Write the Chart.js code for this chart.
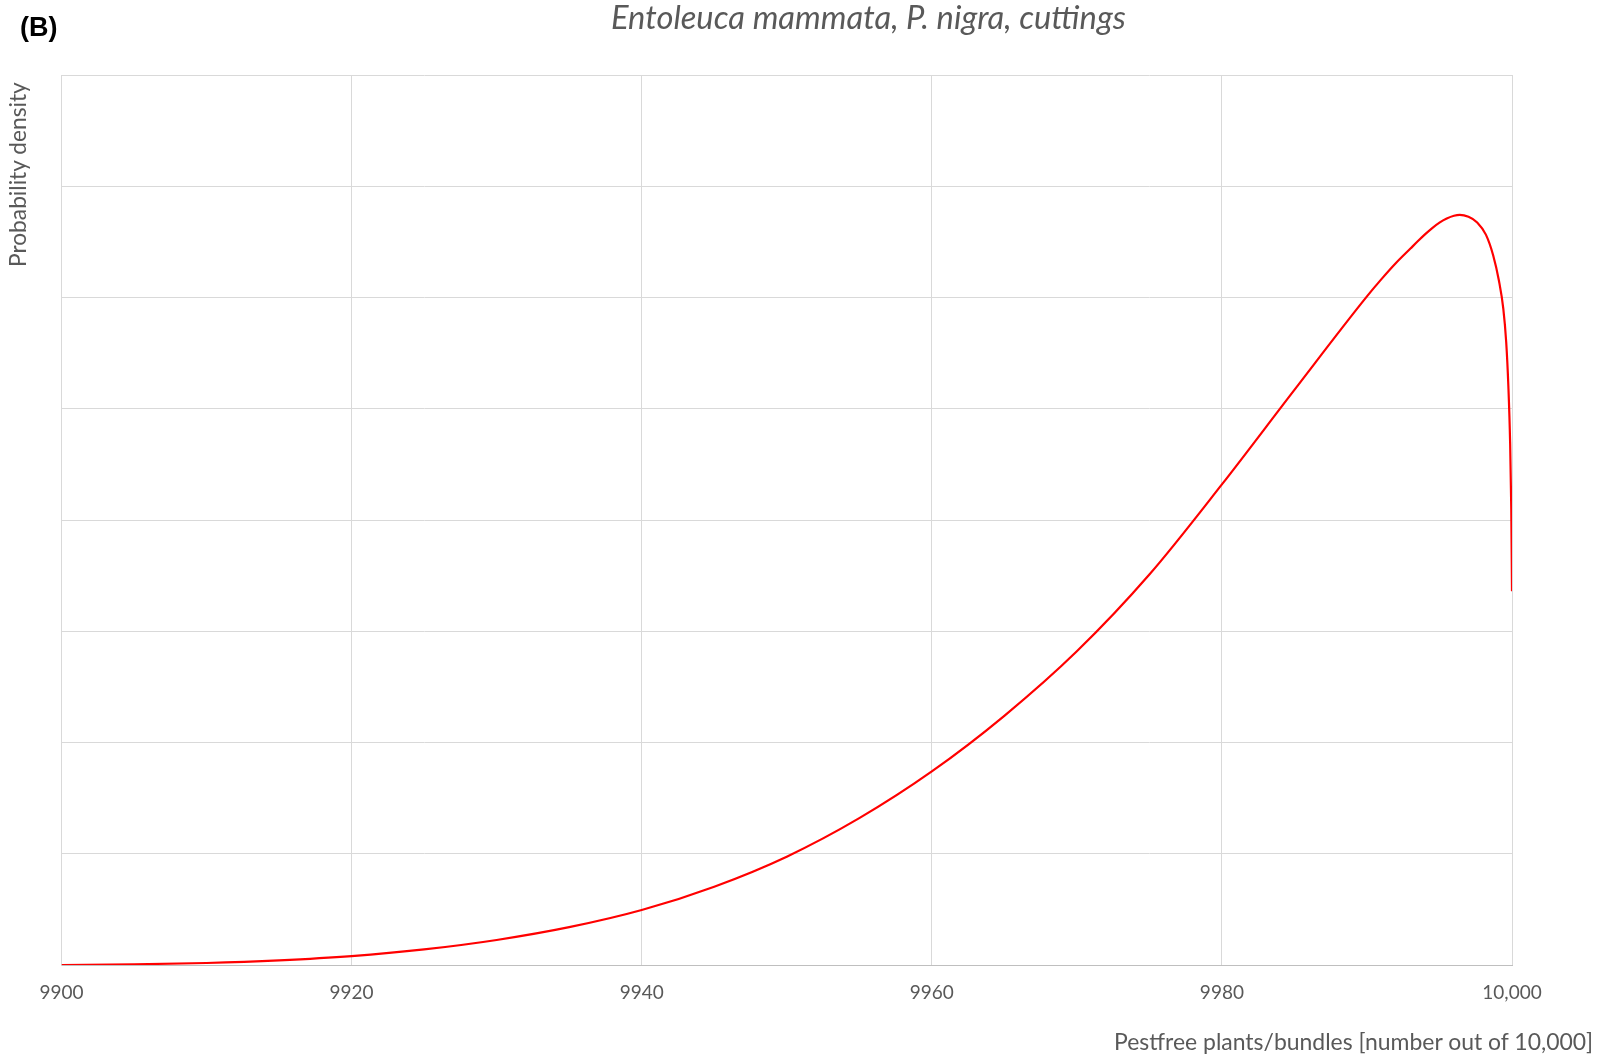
<!DOCTYPE html>
<html>
<head>
<meta charset="utf-8">
<title>Entoleuca mammata, P. nigra, cuttings</title>
<script src="https://cdn.jsdelivr.net/npm/chart.js@4.4.1/dist/chart.umd.min.js"></script>
<style>
  html, body { margin: 0; padding: 0; background: #fff; }
  #wrap { position: relative; width: 1605px; height: 1059px; overflow: hidden; }
  #chart { position: absolute; left: 0; top: 0; }
  .lbl { position: absolute; white-space: nowrap; line-height: 1; color: #595959; font-family: Lato, "Open Sans", sans-serif; }
  #panel { color: #000; font-family: "Liberation Sans", Arial, sans-serif; font-weight: bold; font-size: 27px; left: 20px; top: 14px; }
  #title { font-style: italic; font-size: 29px; }
  #ytitle { font-size: 22px; transform-origin: 0 0; transform: rotate(-90deg); }
  #xtitle { font-size: 20px; }
</style>
</head>
<body>
<div id="wrap">
  <canvas id="chart" width="1605" height="1059"></canvas>
  <div class="lbl" id="panel">(B)</div>
  <div class="lbl" id="title">Entoleuca mammata, P. nigra, cuttings</div>
  <div class="lbl" id="ytitle">Probability density</div>
  <div class="lbl" id="xtitle">Pestfree plants/bundles [number out of 10,000]</div>
</div>
<script>
// pest-free plants out of 10,000 (x) and read-off density (arbitrary units, y axis unlabeled)
var pestfree = [9900, 9905, 9910, 9915, 9920, 9925, 9930, 9935, 9940, 9945,
  9950, 9955, 9960, 9965, 9970, 9975, 9980, 9985, 9990, 9991,
  9992, 9993, 9993.5, 9994, 9994.5, 9995, 9995.5, 9996, 9996.4, 9997,
  9997.6, 9998.2, 9998.7, 9999.1, 9999.4, 9999.6, 9999.75, 9999.87, 9999.95, 10000];
var density = [0, 0.006, 0.018, 0.042, 0.08, 0.14, 0.225, 0.34, 0.494, 0.704,
  0.974, 1.32, 1.74, 2.24, 2.82, 3.51, 4.32, 5.17, 6.01, 6.165,
  6.31, 6.44, 6.505, 6.567, 6.624, 6.673, 6.71, 6.735, 6.743, 6.725,
  6.675, 6.565, 6.38, 6.15, 5.9, 5.6, 5.2, 4.7, 4.1, 3.36];
var xTicks = [9900, 9920, 9940, 9960, 9980, 10000];
var xTickLabels = ['9900', '9920', '9940', '9960', '9980', '10,000'];

var points = pestfree.map(function (v, i) { return { x: v, y: density[i] }; });

var gridColor = '#d9d9d9';

new Chart(document.getElementById('chart'), {
  type: 'line',
  data: {
    datasets: [{
      data: points,
      borderColor: '#ff0000',
      borderWidth: 2.2,
      pointRadius: 0,
      fill: false,
      cubicInterpolationMode: 'monotone'
    }]
  },
  options: {
    responsive: false,
    animation: false,
    events: [],
    layout: { padding: { top: 75, right: 93, left: 0.5, bottom: 0 } },
    plugins: { legend: { display: false }, tooltip: { enabled: false }, title: { display: false } },
    scales: {
      x: {
        type: 'linear',
        min: 9900,
        max: 10000,
        afterBuildTicks: function (s) { s.ticks = xTicks.map(function (v) { return { value: v }; }); },
        afterFit: function (s) { s.height = 94; },
        grid: { color: gridColor, lineWidth: 1, drawTicks: false },
        border: { display: true, color: '#bfbfbf', width: 1 },
        ticks: {
          padding: 16,
          color: '#595959',
          font: { family: 'Lato', size: 19 },
          maxRotation: 0,
          callback: function (v) { var i = xTicks.indexOf(v); return i < 0 ? '' : xTickLabels[i]; }
        }
      },
      y: {
        min: 0,
        max: 8,
        afterFit: function (s) { s.width = 61; },
        grid: {
          drawTicks: false,
          lineWidth: 1,
          color: function (c) { return c.tick && c.tick.value === 0 ? 'rgba(0,0,0,0)' : gridColor; }
        },
        border: { display: true, color: gridColor },
        ticks: { display: false, stepSize: 1 }
      }
    }
  }
});

// place the text blocks; font sizes scaled so widths match the picture
function fit(el, target) {
  var fs = parseFloat(getComputedStyle(el).fontSize);
  el.style.fontSize = (fs * target / el.offsetWidth) + 'px';
  return parseFloat(el.style.fontSize);
}
var t = document.getElementById('title');
var fs = fit(t, 515);
t.style.left = (868.5 - t.offsetWidth / 2) + 'px';
t.style.top = (29.7 - 0.887 * fs) + 'px';

var yt = document.getElementById('ytitle');
fs = fit(yt, 185);
yt.style.left = (26.7 - 0.887 * fs) + 'px';
yt.style.top = (81.7 + yt.offsetWidth) + 'px';

var xt = document.getElementById('xtitle');
fs = fit(xt, 480);
xt.style.left = (1593 - xt.offsetWidth) + 'px';
xt.style.top = (1050 - 0.887 * fs) + 'px';
</script>
</body>
</html>
